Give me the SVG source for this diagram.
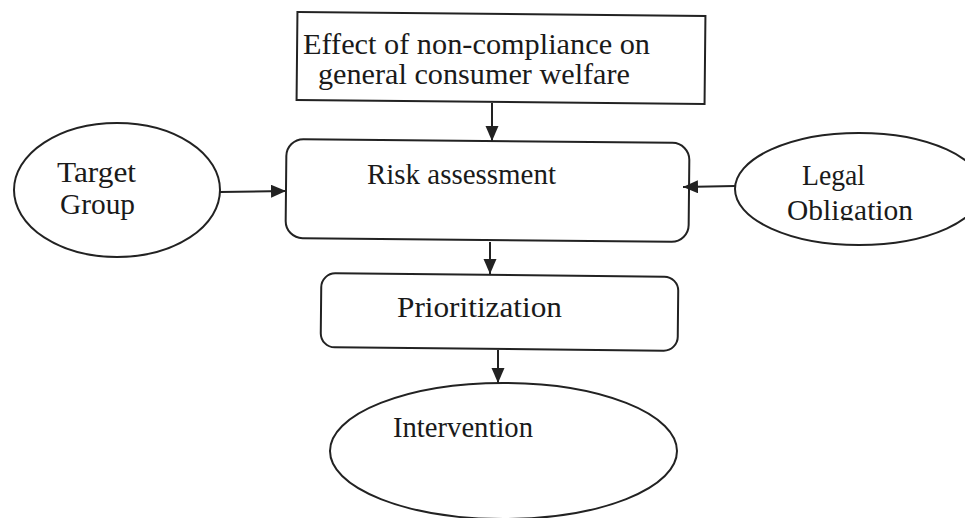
<svg xmlns="http://www.w3.org/2000/svg" width="965" height="518" viewBox="0 0 965 518">
<style>
.shape{fill:#fff;stroke:#222;stroke-width:2}
.conn{fill:none;stroke:#222;stroke-width:2}
.lbl{font-family:"Liberation Serif","Times New Roman",serif;font-size:30px;fill:#1a1a1a}
.tnr{font-size:28.5px}
</style>
<defs>
<marker id="ah" markerUnits="userSpaceOnUse" markerWidth="16" markerHeight="14" refX="15" refY="6.5" orient="auto">
<path d="M0,0 L15,6.5 L0,13 z" fill="#222"/>
</marker>
<clipPath id="clipLegal"><rect x="700" y="100" width="300" height="120.5"/></clipPath>
</defs>
<rect width="965" height="518" fill="#fff"/>
<g id="effect">
<rect class="shape" x="297" y="14" width="408" height="88" transform="rotate(0.57 501 58)"/>
<text class="lbl" x="303" y="54" textLength="347" lengthAdjust="spacingAndGlyphs">Effect of non-compliance on</text>
<text class="lbl" x="318" y="84" textLength="312" lengthAdjust="spacingAndGlyphs">general consumer welfare</text>
</g>
<g id="risk">
<rect class="shape" x="286" y="141" width="403" height="99" rx="17" transform="rotate(0.57 487.5 190.5)"/>
<text class="lbl" x="367" y="184" textLength="189" lengthAdjust="spacingAndGlyphs">Risk assessment</text>
</g>
<g id="target">
<ellipse class="shape" cx="117" cy="190" rx="103" ry="67"/>
<text class="lbl" x="57" y="182" textLength="79" lengthAdjust="spacingAndGlyphs">Target</text>
<text class="lbl" x="60" y="214" textLength="75" lengthAdjust="spacingAndGlyphs">Group</text>
</g>
<g id="legal">
<ellipse class="shape" cx="859" cy="189" rx="124" ry="56"/>
<g clip-path="url(#clipLegal)">
<text class="lbl" x="802" y="185" textLength="63" lengthAdjust="spacingAndGlyphs">Legal</text>
<text class="lbl" x="787" y="220" textLength="126" lengthAdjust="spacingAndGlyphs">Obligation</text>
</g>
</g>
<g id="prioritization">
<rect class="shape" x="321" y="275" width="357" height="74" rx="14" transform="rotate(0.57 499.5 312)"/>
<text class="lbl" x="397" y="317" textLength="165" lengthAdjust="spacingAndGlyphs">Prioritization</text>
</g>
<g id="intervention">
<ellipse class="shape" cx="503.5" cy="451" rx="173.5" ry="68"/>
<text class="lbl tnr" x="393" y="437" textLength="140" lengthAdjust="spacingAndGlyphs">Intervention</text>
</g>
<g id="connectors">
<line class="conn" x1="492" y1="103" x2="492" y2="141" marker-end="url(#ah)"/>
<line class="conn" x1="220" y1="192" x2="286" y2="191" marker-end="url(#ah)"/>
<line class="conn" x1="735" y1="186" x2="683" y2="187" marker-end="url(#ah)"/>
<line class="conn" x1="490" y1="242" x2="490" y2="274" marker-end="url(#ah)"/>
<line class="conn" x1="498" y1="350" x2="498" y2="383" marker-end="url(#ah)"/>
</g>
</svg>
